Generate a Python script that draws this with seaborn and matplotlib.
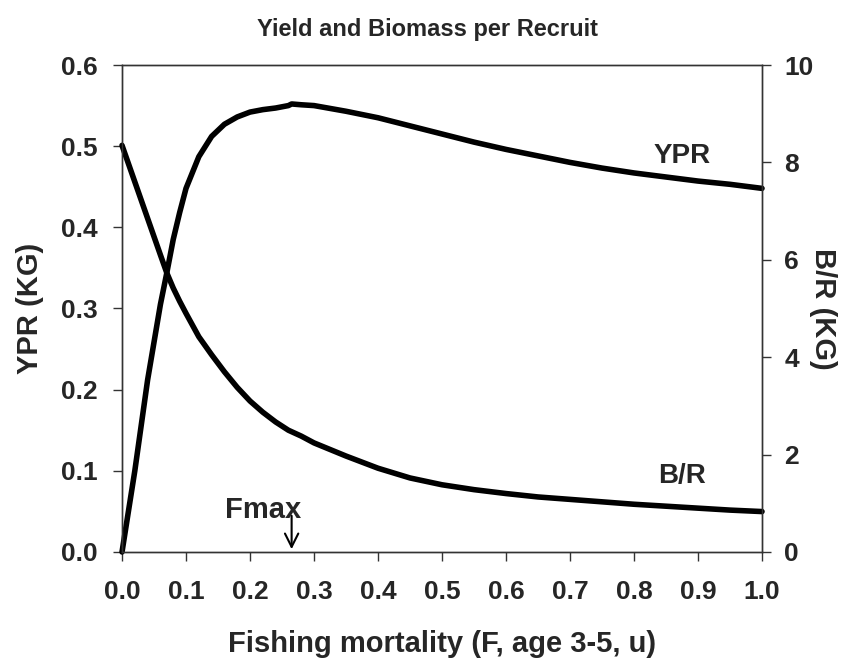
import numpy as np
import pandas as pd
import seaborn as sns
import matplotlib.pyplot as plt
from matplotlib.ticker import FormatStrFormatter

# fishing mortality grid and values
f_vals = [0.0, 0.02, 0.04, 0.06, 0.07, 0.08, 0.09, 0.10, 0.12, 0.14, 0.16, 0.18,
          0.20, 0.22, 0.24, 0.26, 0.265, 0.28, 0.30, 0.35, 0.40, 0.45, 0.50, 0.55,
          0.60, 0.65, 0.70, 0.75, 0.80, 0.85, 0.90, 0.95, 1.00]
ypr = [0.0, 0.100, 0.212, 0.305, 0.344, 0.385, 0.418, 0.448, 0.487, 0.512, 0.527, 0.536,
       0.542, 0.545, 0.547, 0.550, 0.552, 0.551, 0.550, 0.543, 0.535, 0.525, 0.515, 0.505,
       0.496, 0.488, 0.480, 0.473, 0.467, 0.462, 0.457, 0.453, 0.448]
br = [8.35, 7.60, 6.85, 6.10, 5.73, 5.42, 5.15, 4.90, 4.42, 4.05, 3.70, 3.38,
      3.10, 2.87, 2.67, 2.50, 2.47, 2.38, 2.24, 1.97, 1.72, 1.52, 1.38, 1.28,
      1.20, 1.13, 1.08, 1.03, 0.98, 0.94, 0.90, 0.86, 0.83]

fmax = 0.265

df = pd.DataFrame({'F': f_vals, 'YPR': ypr, 'BR': br})

sns.set_style('ticks')
plt.rcParams['font.family'] = ['Liberation Sans', 'DejaVu Sans']
plt.rcParams['font.weight'] = 'bold'
plt.rcParams['axes.labelweight'] = 'bold'

fig, ax = plt.subplots(figsize=(8.45, 6.66), dpi=100)
fig.subplots_adjust(left=0.1444, right=0.9018, bottom=0.1712, top=0.9024)

sns.lineplot(data=df, x='F', y='YPR', ax=ax, color='black', lw=4, clip_on=False)
ax2 = ax.twinx()
sns.lineplot(data=df, x='F', y='BR', ax=ax2, color='black', lw=4, clip_on=False)

ax.set_xlim(0, 1)
ax.set_ylim(0, 0.6)
ax2.set_ylim(0, 10)
ax.set_xticks(np.arange(0, 1.01, 0.1))
ax.set_yticks(np.arange(0, 0.61, 0.1))
ax2.set_yticks(np.arange(0, 10.1, 2))
ax.xaxis.set_major_formatter(FormatStrFormatter('%.1f'))
ax.yaxis.set_major_formatter(FormatStrFormatter('%.1f'))

for a in (ax, ax2):
    for s in a.spines.values():
        s.set_linewidth(1)
        s.set_color('#333333')
ax.tick_params(axis='x', direction='out', length=6.5, width=1, labelsize=19, pad=14, color='#333333')
ax.tick_params(axis='y', direction='out', length=6.5, width=1, labelsize=19, pad=11, color='#333333')
ax2.tick_params(axis='y', direction='out', length=6.5, width=1, labelsize=19, pad=9.5, color='#333333')

ax.set_xlabel('Fishing mortality (F, age 3-5, u)', fontsize=21)
ax.xaxis.set_label_coords(0.5, (552 - 652) / 487)
ax.xaxis.label.set_va('baseline')
ax.set_ylabel('YPR (KG)', fontsize=21)
ax.yaxis.set_label_coords(-0.144, 0.5)
ax.yaxis.label.set_va('center')
ax2.set_ylabel('B/R (KG)', fontsize=21, rotation=-90)
ax2.yaxis.set_label_coords(1.095, 0.5)
ax2.yaxis.label.set_va('center')

fig.text(0.506, 1 - 36 / 666, 'Yield and Biomass per Recruit', fontsize=17,
         ha='center', va='baseline')

ax.text(0.875, 0.479, 'YPR', fontsize=20, ha='center', va='baseline')
ax.text(0.875, 0.085, 'B/R', fontsize=20, ha='center', va='baseline')

ax.annotate('', xy=(fmax, 0), xytext=(fmax, 0.048),
            arrowprops=dict(arrowstyle='->', color='black', lw=1.5, mutation_scale=24))
ax.text(0.22, 0.042, 'Fmax', fontsize=21, ha='center', va='baseline')

fig.savefig('out.png', dpi=100)
